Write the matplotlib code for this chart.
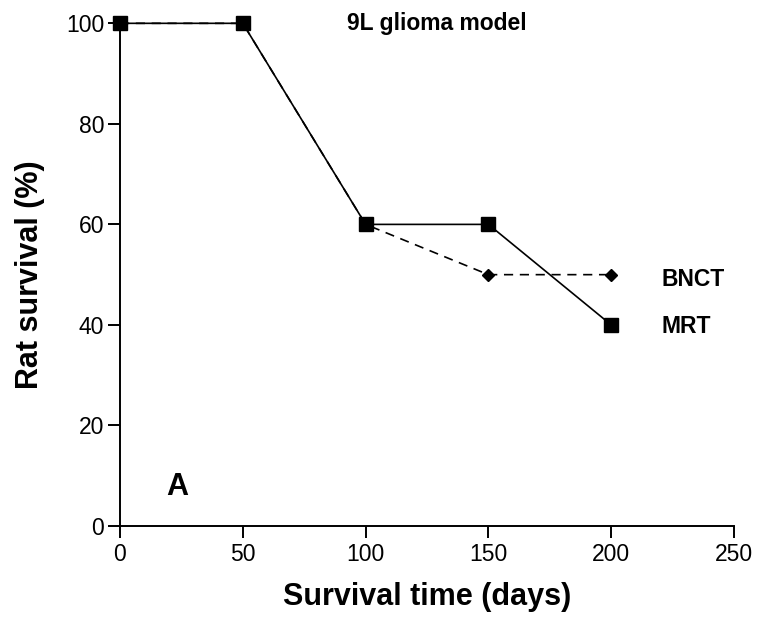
import matplotlib
matplotlib.use("Agg")
import matplotlib.pyplot as plt

plt.rcParams['font.family'] = ['Liberation Sans', 'DejaVu Sans']

days = [0, 50, 100, 150, 200]
mrt_survival = [100, 100, 60, 60, 40]
bnct_survival = [100, 100, 60, 50, 50]
x_ticks = [0, 50, 100, 150, 200, 250]
y_ticks = [0, 20, 40, 60, 80, 100]

fig = plt.figure(figsize=(7.59, 6.17), dpi=100)
ax = fig.add_axes([0.1581, 0.1475, 0.809, 0.8147])

ax.plot(days, mrt_survival, color='black', lw=1.2, marker='s', ms=10,
        clip_on=False, zorder=3)
ax.plot(days, bnct_survival, color='black', lw=1.2, ls=(0, (5.5, 4)),
        marker='D', ms=6.5, clip_on=False, zorder=4)

ax.set_xlim(0, 250)
ax.set_ylim(0, 100)
ax.set_xticks(x_ticks)
ax.set_yticks(y_ticks)
ax.tick_params(direction='out', length=8.5, width=1.4, labelsize=16.5)
ax.tick_params(axis='x', pad=4)
ax.tick_params(axis='y', pad=3)
for side in ('top', 'right'):
    ax.spines[side].set_visible(False)
for side in ('left', 'bottom'):
    ax.spines[side].set_linewidth(1.4)

ax.set_xlabel('Survival time (days)', fontsize=22, fontweight='bold', labelpad=11)
ax.set_ylabel('Rat survival (%)', fontsize=22, fontweight='bold', labelpad=15)

# series names placed just right of the last points
ax.text(220.5, bnct_survival[-1] - 2.3, 'BNCT', fontsize=16.5, fontweight='bold',
        va='baseline')
ax.text(220.5, mrt_survival[-1] - 1.6, 'MRT', fontsize=16.5, fontweight='bold',
        va='baseline')
ax.text(129, 100, '9L glioma model', fontsize=16.5, fontweight='bold',
        ha='center', va='center')
ax.text(19, 7.8, 'A', fontsize=22, fontweight='bold', va='center')

fig.savefig('out.png', dpi=100)
